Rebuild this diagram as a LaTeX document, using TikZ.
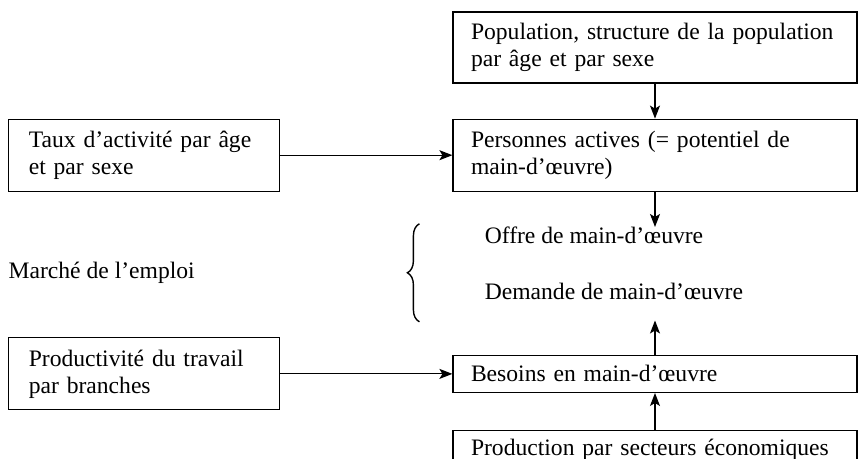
\documentclass[tikz,border=0pt]{standalone}
\usepackage{fontspec}
\setmainfont{Liberation Serif}
\usepackage{tikz}
\usetikzlibrary{arrows.meta,positioning,decorations.pathreplacing}
\tikzset{
    %Define standard arrow tip
    >={Stealth[length=6.5pt,width=5pt,inset=1.5pt]},
    %Define style for boxes
    rightbox/.style={
           rectangle,
           draw=black, line width=0.6pt,
           minimum width=202pt,
           text width=184pt,
           inner xsep=9pt,
           inner ysep=2pt,
           font=\fontsize{11.8}{13.5}\selectfont,
           align=left},
    leftbox/.style={
           rectangle,
           draw=black, line width=0.6pt,
           minimum width=135.5pt,
           text width=115.5pt,
           inner xsep=10pt,
           inner ysep=2pt,
           font=\fontsize{11.8}{13.5}\selectfont,
           align=left},
    plain/.style={
           inner sep=0pt,
           font=\fontsize{11.8}{13.5}\selectfont},
    % Define arrow style
    pil/.style={
           ->,
           line width=0.6pt},
    brc/.style={
           decorate,
           decoration={brace, amplitude=6pt},
           line width=0.7pt}
}
\begin{document}
\begin{tikzpicture}[x=0.5pt,y=0.5pt,node distance=17.5pt]
\useasboundingbox (0,0) rectangle (858,459);
\clip (0,0) rectangle (858,459);
\node[rightbox, minimum height=35.5pt] (pop) at (655,411.5) {Population, structure de la population\\par âge et par sexe};
\node[rightbox, minimum height=36pt, below=of pop] (actives) {Personnes actives (= potentiel de\\main-d’œuvre)};
\node[leftbox, minimum height=36pt, left=86pt of actives] (taux) {Taux d’activité par âge\\et par sexe};
\node[plain, anchor=west] (offre) at ([xshift=16pt,yshift=-22pt]actives.south west) {Offre de main-d’œuvre};
\node[plain, below=28pt of offre.west, anchor=west] (demande) {Demande de main-d’œuvre};
\node[plain, anchor=west] (marche) at ([yshift=-59pt]taux.west) {Marché de l’emploi};
\node[rightbox, minimum height=18.5pt, below=81.5pt of actives] (besoins) {Besoins en main-d’œuvre};
\node[leftbox, minimum height=36pt, left=86pt of besoins] (prodt) {Productivité du travail\\par branches};
\node[rightbox, inner ysep=4pt, below=18.5pt of besoins] (secteurs) {Production par secteurs économiques};
\path[pil]
	(pop) edge (actives)
	(taux) edge (actives)
	(actives.south) edge (actives.south |- offre.north)
	(secteurs) edge (besoins)
	(prodt) edge (besoins)
	(besoins.north) edge ([yshift=-10pt]besoins.north |- demande.south);
\coordinate (brtop) at ([xshift=-32.5pt,yshift=6pt]offre.west);
\coordinate (brbot) at ([xshift=-32.5pt,yshift=-15pt]demande.west);
\draw[brc] (brbot) -- (brtop);
\end{tikzpicture}
\end{document}
